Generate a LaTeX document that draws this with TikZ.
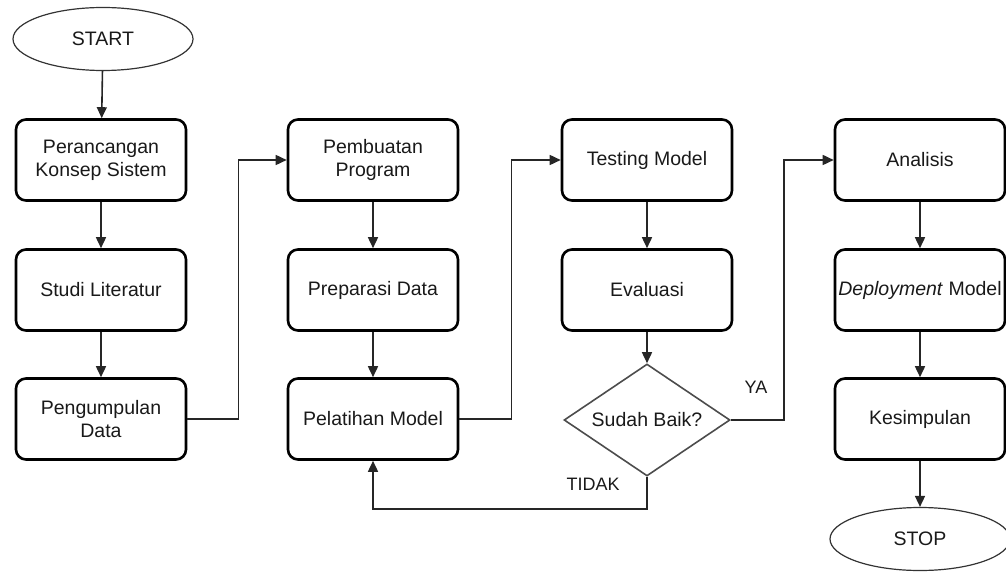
\documentclass[tikz,border=0pt]{standalone}
\usepackage{fontspec}
\setmainfont{Liberation Sans}
\usetikzlibrary{shapes.geometric,arrows.meta}
\begin{document}
\begin{tikzpicture}[x=1pt,y=-1pt,
  every node/.style={font=\fontsize{19.5}{23}\selectfont, text=black!90},
  box/.style={draw=black, line width=2.6pt, rounded corners=10pt, minimum width=170pt, minimum height=81pt, align=center, inner sep=0pt},
  term/.style={draw=black!80, line width=1.2pt, ellipse, minimum width=180pt, minimum height=63pt, inner sep=0pt},
  dec/.style={draw=black!70, line width=1.6pt, diamond, minimum width=166pt, minimum height=112pt, aspect=1.48, inner sep=0pt},
  arr/.style={draw=black!85, line width=1.6pt, -{Triangle[length=11pt,width=10pt]}},
  ln/.style={draw=black!85, line width=1.6pt},
  lbl/.style={font=\fontsize{18}{22}\selectfont}]
\useasboundingbox (0,0) rectangle (1006,572);
\node[term] (start) at (103,39) {START};
\node[box] (a1) at (101,160) {Perancangan\\Konsep Sistem};
\node[box] (a2) at (101,290) {Studi Literatur};
\node[box] (a3) at (101,419) {Pengumpulan\\Data};
\node[box] (b1) at (373,160) {Pembuatan\\Program};
\node[box] (b2) at (373,290) {Preparasi Data};
\node[box] (b3) at (373,419) {Pelatihan Model};
\node[box] (c1) at (647,160) {Testing Model};
\node[box] (c2) at (647,290) {Evaluasi};
\node[dec] (dia) at (647,420) {Sudah Baik?};
\node[box] (d1) at (920,160) {Analisis};
\node[box] (d2) at (920,290) {\textit{Deployment} Model};
\node[box] (d3) at (920,419) {Kesimpulan};
\node[term] (stop) at (920,539) {STOP};
\node[lbl] (ya) at (756,387) {YA};
\node[lbl] (tidak) at (593,484) {TIDAK};
\draw[arr] (start) -- (a1);
\draw[arr] (a1) -- (a2);
\draw[arr] (a2) -- (a3);
\draw[arr] (a3.east) -- ++(51,0) |- (b1.west);
\draw[arr] (b1) -- (b2);
\draw[arr] (b2) -- (b3);
\draw[arr] (b3.east) -- ++(52,0) |- (c1.west);
\draw[arr] (c1) -- (c2);
\draw[arr] (c2) -- (dia);
\draw[arr] (dia.east) -- ++(53,0) |- (d1.west);
\draw[arr] (dia.south) -- ++(0,32) -| (b3.south);
\draw[arr] (d1) -- (d2);
\draw[arr] (d2) -- (d3);
\draw[arr] (d3) -- (stop);
\end{tikzpicture}
\end{document}
